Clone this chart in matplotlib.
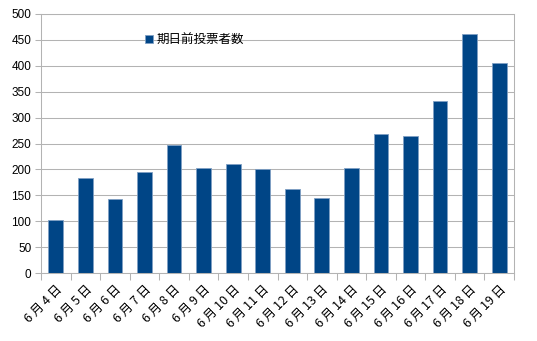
import matplotlib
matplotlib.use("Agg")
import matplotlib.pyplot as plt
import numpy as np

days = [4, 5, 6, 7, 8, 9, 10, 11, 12, 13, 14, 15, 16, 17, 18, 19]
labels = [f"6 月 {d} 日" for d in days]
values = [102, 183, 142, 195, 248, 203, 211, 201, 162, 145, 202, 269, 265, 332, 461, 406]
series_name = "期日前投票者数"

W, H = 537, 341
fig = plt.figure(figsize=(W / 100, H / 100), dpi=100)
ax = fig.add_axes([41 / W, 1 - 273 / H, (514 - 41) / W, (273 - 14) / H])

grid_c = "#b3b3b3"
x = np.arange(len(values))
bars = ax.bar(x, values, width=0.5, color="#004586", edgecolor="#7f9fc4",
              linewidth=0.6, zorder=3, label=series_name)

ax.set_xlim(-0.5, len(values) - 0.5)
ax.set_ylim(0, 500)
ax.set_yticks(np.arange(0, 501, 50))
ax.yaxis.grid(True, color=grid_c, linewidth=0.75, zorder=0)
for s in ax.spines.values():
    s.set_color(grid_c)
    s.set_linewidth(0.75)
ax.spines["bottom"].set_zorder(4)

ax.set_xticks(np.arange(-0.5, len(values), 1.0))
ax.set_xticklabels([])
ax.set_xticks(x, minor=True)
ax.set_xticklabels(labels, minor=True, rotation=45, ha="right", va="top",
                   rotation_mode="anchor", family=["Noto Sans CJK JP", "DejaVu Sans"],
                   fontsize=9)
ax.tick_params(axis="x", which="major", length=5, color=grid_c, width=0.75)
ax.tick_params(axis="x", which="minor", length=0, pad=7)
ax.tick_params(axis="y", length=4, color=grid_c, width=0.75, pad=3)
for t in ax.get_yticklabels():
    t.set_family(["Liberation Sans", "DejaVu Sans"])
    t.set_fontsize(8.5)

leg = ax.legend(handles=[bars], labels=[series_name], loc="center left",
                bbox_to_anchor=(134 / W, 1 - 40 / H), bbox_transform=fig.transFigure,
                frameon=False, handlelength=0.6, handleheight=0.6, handletextpad=0.3,
                prop={"family": ["Noto Sans CJK JP", "DejaVu Sans"], "size": 9})

fig.savefig("out.png", dpi=100)
